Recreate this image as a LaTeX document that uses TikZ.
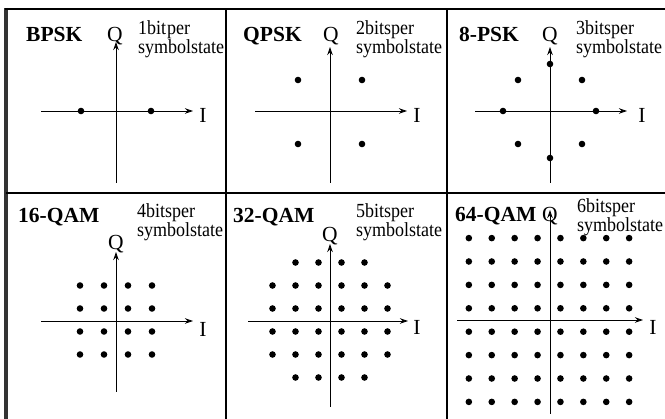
\documentclass[tikz,border=0pt]{standalone}
\usepackage{fontspec}
\setmainfont{Liberation Serif}
\usetikzlibrary{arrows.meta}
\begin{document}
\begin{tikzpicture}[x=1pt,y=-1pt,
  dot/.style={circle,fill,inner sep=0pt,minimum size=6.6pt},
  axis/.style={line width=0.9pt,-{Stealth[length=8pt,width=5.5pt]}},
  title/.style={font=\bfseries\fontsize{21.5}{21.5}\selectfont,anchor=base west,inner sep=0pt},
  axlab/.style={font=\fontsize{21.5}{21.5}\selectfont,anchor=base,inner sep=0pt},
  bits/.style={font=\fontsize{20}{18}\selectfont,anchor=base west,inner sep=0pt,xscale=0.9,align=left},
  frame/.style={line width=1.3pt}]
\useasboundingbox (0,0) rectangle (665,419);
% frame
\draw[line width=3.2pt, black!80] (6,8) -- (6,419);
\draw[line width=2pt] (4.5,9.5) -- (665,9.5);
\draw[frame] (6,193) -- (665,193);
\draw[frame] (226,9) -- (226,419);
\draw[frame] (447,9) -- (447,419);

% ---------- BPSK ----------
\coordinate (q1a) at (116,183); \coordinate (q1b) at (116,42);
\coordinate (i1a) at (41,111);  \coordinate (i1b) at (193,111);
\draw[axis] (q1a) -- (q1b);
\draw[axis] (i1a) -- (i1b);
\node[title] (t1) at (26,42) {BPSK};
\node[axlab] (Q1) at (115,42) {Q};
\node[axlab] (I1) at (203,123) {I};
\node[bits] (b1) at (138,54) {1bit\kern1pt per\\symbolstate};
\node[dot] (p1a) at (81,111) {};
\node[dot] (p1b) at (151,111) {};

% ---------- QPSK ----------
\coordinate (q2a) at (330,183); \coordinate (q2b) at (330,47);
\coordinate (i2a) at (255,111); \coordinate (i2b) at (407,111);
\draw[axis] (q2a) -- (q2b);
\draw[axis] (i2a) -- (i2b);
\node[title] (t2) at (243,42) {QPSK};
\node[axlab] (Q2) at (331,42) {Q};
\node[axlab] (I2) at (417,123) {I};
\node[bits] (b2) at (356,54) {2bitsper\\symbolstate};
\foreach \x/\y [count=\k] in {298/80,362/80,298/144,362/144}
  \node[dot] (p2-\k) at (\x,\y) {};

% ---------- 8-PSK ----------
\coordinate (q3a) at (550,183); \coordinate (q3b) at (550,47);
\coordinate (i3a) at (475,111); \coordinate (i3b) at (627,111);
\draw[axis] (q3a) -- (q3b);
\draw[axis] (i3a) -- (i3b);
\node[title] (t3) at (459,42) {8-PSK};
\node[axlab] (Q3) at (550,42) {Q};
\node[axlab] (I3) at (642,123) {I};
\node[bits] (b3) at (576,54) {3bitsper\\symbolstate};
\foreach \x/\y [count=\k] in {503/111,596/111,550/64,550/158,518/80,582/80,518/144,582/144}
  \node[dot] (p3-\k) at (\x,\y) {};

% ---------- 16-QAM ----------
\coordinate (q4a) at (116,392); \coordinate (q4b) at (116,252);
\coordinate (i4a) at (41,321);  \coordinate (i4b) at (193,321);
\draw[axis] (q4a) -- (q4b);
\draw[axis] (i4a) -- (i4b);
\node[title] (t4) at (18,223) {16-QAM};
\node[axlab] (Q4) at (116,250) {Q};
\node[axlab] (I4) at (203,337) {I};
\node[bits] (b4) at (137,237) {4bitsper\\symbolstate};
\foreach \i in {0,...,3}
  \foreach \j in {0,...,3}
    \node[dot] (p4-\i-\j) at ({116+(\i-1.5)*24},{320+(\j-1.5)*23}) {};

% ---------- 32-QAM ----------
\coordinate (q5a) at (330,407); \coordinate (q5b) at (330,244);
\coordinate (i5a) at (248,321); \coordinate (i5b) at (408,321);
\draw[axis] (q5a) -- (q5b);
\draw[axis] (i5a) -- (i5b);
\node[title] (t5) at (233,223) {32-QAM};
\node[axlab] (Q5) at (330,242) {Q};
\node[axlab] (I5) at (417,335) {I};
\node[bits] (b5) at (356,237) {5bitsper\\symbolstate};
\foreach \i in {0,...,5}
  \foreach \j in {0,...,5}{
    \pgfmathtruncatemacro{\corner}{((\i==0)||(\i==5))&&((\j==0)||(\j==5))}
    \ifnum\corner=0
      \node[dot] (p5-\i-\j) at ({330+(\i-2.5)*23},{320+(\j-2.5)*23}) {};
    \fi
  }

% ---------- 64-QAM ----------
\coordinate (q6a) at (550,414); \coordinate (q6b) at (550,210);
\coordinate (i6a) at (457,320); \coordinate (i6b) at (643,320);
\draw[axis] (q6a) -- (q6b);
\draw[axis] (i6a) -- (i6b);
\node[title] (t6) at (455,222) {64-QAM};
\node[axlab] (Q6) at (550,222) {Q};
\node[axlab] (I6) at (653,335) {I};
\node[bits, font=\fontsize{20}{14}\selectfont] (b6) at (577,232) {6bitsper\\symbolstate};
\foreach \i in {0,...,7}
  \foreach \j in {0,...,7}
    \node[dot] (p6-\i-\j) at ({549+(\i-3.5)*22.9},{320+(\j-3.5)*23.4}) {};
\end{tikzpicture}
\end{document}
